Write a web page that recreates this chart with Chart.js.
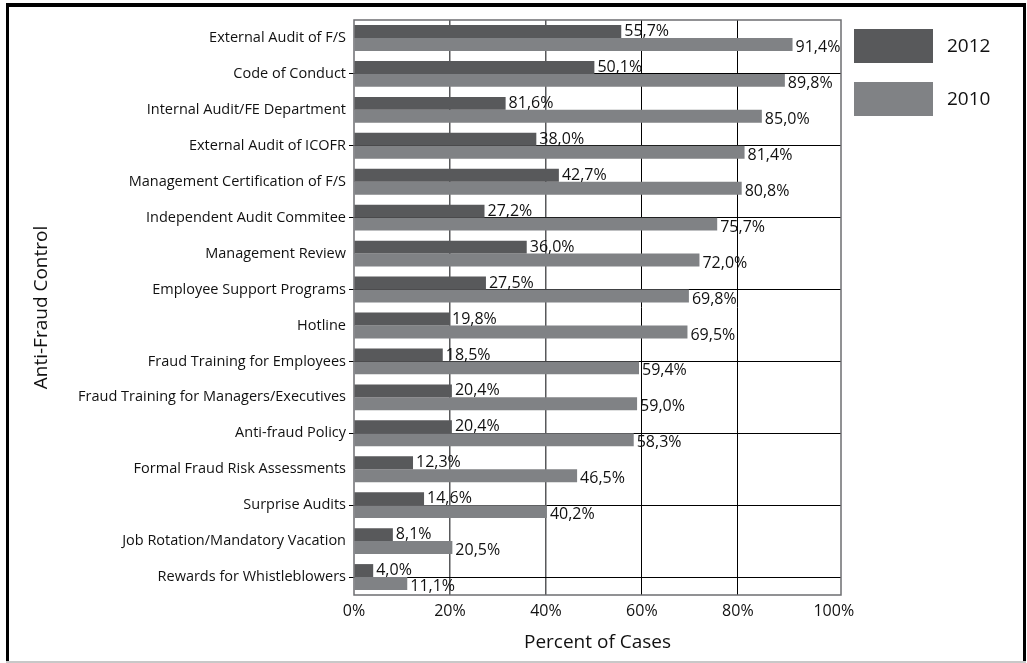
<!DOCTYPE html>
<html>
<head>
<meta charset="utf-8">
<script src="https://cdn.jsdelivr.net/npm/chart.js@4.4.0/dist/chart.umd.min.js"></script>
<style>
  html, body { margin: 0; padding: 0; background: #fff; }
</style>
</head>
<body>
<canvas id="chart" width="1027" height="663"></canvas>
<script>
const categories = [
  'External Audit of F/S',
  'Code of Conduct',
  'Internal Audit/FE Department',
  'External Audit of ICOFR',
  'Management Certification of F/S',
  'Independent Audit Commitee',
  'Management Review',
  'Employee Support Programs',
  'Hotline',
  'Fraud Training for Employees',
  'Fraud Training for Managers/Executives',
  'Anti-fraud Policy',
  'Formal Fraud Risk Assessments',
  'Surprise Audits',
  'Job Rotation/Mandatory Vacation',
  'Rewards for Whistleblowers'
];
// bar lengths as drawn (the 3rd 2012 bar is ~31.6 although its label says 81,6%)
const values2012 = [55.7, 50.1, 31.6, 38.0, 42.7, 27.2, 36.0, 27.5, 19.8, 18.5, 20.4, 20.4, 12.3, 14.6, 8.1, 4.0];
const values2010 = [91.4, 89.8, 85.0, 81.4, 80.8, 75.7, 72.0, 69.8, 69.5, 59.4, 59.0, 58.3, 46.5, 40.2, 20.5, 11.1];
const labels2012 = ['55,7%', '50,1%', '81,6%', '38,0%', '42,7%', '27,2%', '36,0%', '27,5%', '19,8%', '18,5%', '20,4%', '20,4%', '12,3%', '14,6%', '8,1%', '4,0%'];
const labels2010 = ['91,4%', '89,8%', '85,0%', '81,4%', '80,8%', '75,7%', '72,0%', '69,8%', '69,5%', '59,4%', '59,0%', '58,3%', '46,5%', '40,2%', '20,5%', '11,1%'];
const seriesNames = ['2012', '2010'];
const xTicks = [0, 20, 40, 60, 80, 100];

const dark = '#58595b';
const light = '#808285';
const FONT = "'Open Sans', sans-serif";

Chart.defaults.font.family = FONT;
Chart.defaults.color = '#111';

const decor = {
  id: 'decor',
  beforeDraw(chart) {
    const c = chart.ctx;
    c.save();
    c.fillStyle = '#fff';
    c.fillRect(0, 0, chart.width, chart.height);
    c.restore();
  },
  beforeDatasetsDraw(chart) {
    const c = chart.ctx, a = chart.chartArea;
    c.save();
    c.strokeStyle = '#6d6e71';
    c.lineWidth = 1.5;
    c.strokeRect(a.left, a.top, a.right - a.left, a.bottom - a.top);
    c.restore();
  },
  afterDatasetsDraw(chart) {
    const c = chart.ctx;
    const texts = [labels2012, labels2010];
    c.save();
    c.font = '16px ' + FONT;
    c.fillStyle = '#111';
    c.textAlign = 'left';
    c.textBaseline = 'middle';
    chart.data.datasets.forEach((ds, i) => {
      chart.getDatasetMeta(i).data.forEach((bar, j) => {
        c.fillText(texts[i][j], bar.x + 3, bar.y + (i === 1 ? 3 : 0));
      });
    });
    c.restore();
  },
  afterDraw(chart) {
    const c = chart.ctx;
    c.save();
    // legend
    const cols = [dark, light];
    c.font = '19px ' + FONT;
    c.textBaseline = 'middle';
    c.textAlign = 'left';
    seriesNames.forEach((name, i) => {
      const y = 29 + i * 53;
      c.fillStyle = cols[i];
      c.fillRect(854, y, 79, 34);
      c.fillStyle = '#111';
      c.fillText(name, 947, y + 18);
    });
    // outer frame
    c.fillStyle = '#000';
    c.fillRect(6, 3, 1020, 4);
    c.fillRect(6, 3, 3, 660);
    c.fillRect(1023, 3, 3, 660);
    c.fillStyle = '#c8c8c8';
    c.fillRect(6, 661, 1020, 2);
    c.restore();
  }
};

new Chart(document.getElementById('chart'), {
  type: 'bar',
  data: {
    labels: categories,
    datasets: [
      { label: seriesNames[0], data: values2012, backgroundColor: dark },
      { label: seriesNames[1], data: values2010, backgroundColor: light }
    ]
  },
  options: {
    indexAxis: 'y',
    responsive: false,
    animation: false,
    layout: { padding: { top: 20, right: 186, bottom: 0, left: 0 } },
    datasets: { bar: { categoryPercentage: 0.72, barPercentage: 1 } },
    plugins: { legend: { display: false }, tooltip: { enabled: false } },
    scales: {
      x: {
        min: 0,
        max: 101.5,
        afterBuildTicks: (s) => { s.ticks = xTicks.map(v => ({ value: v })); },
        afterFit: (s) => { s.height = 68; },
        border: { display: false },
        grid: {
          drawTicks: false,
          color: (ctx) => ctx.index === 1 || ctx.index === 2 ? '#58595b' : (ctx.index === 3 || ctx.index === 4 ? '#000' : 'transparent'),
          lineWidth: (ctx) => ctx.index === 1 || ctx.index === 2 ? 1.5 : 1
        },
        ticks: {
          padding: 7,
          font: { size: 16 },
          color: '#111',
          callback: (v) => v + '%'
        },
        title: {
          display: true,
          text: 'Percent of Cases',
          font: { size: 19 },
          color: '#111',
          padding: { top: 0, bottom: 9 }
        }
      },
      y: {
        afterFit: (s) => { s.width = 354; },
        border: { display: false },
        grid: {
          offset: false,
          tickLength: 5,
          color: (ctx) => ctx.index % 2 === 1 ? '#000' : 'transparent',
          lineWidth: 1
        },
        ticks: {
          padding: 3,
          font: { size: 14.5 },
          color: '#111'
        },
        title: {
          display: true,
          text: 'Anti-Fraud Control',
          font: { size: 19 },
          color: '#111',
          padding: { top: 30, bottom: 0 }
        }
      }
    }
  },
  plugins: [decor]
});
</script>
</body>
</html>
